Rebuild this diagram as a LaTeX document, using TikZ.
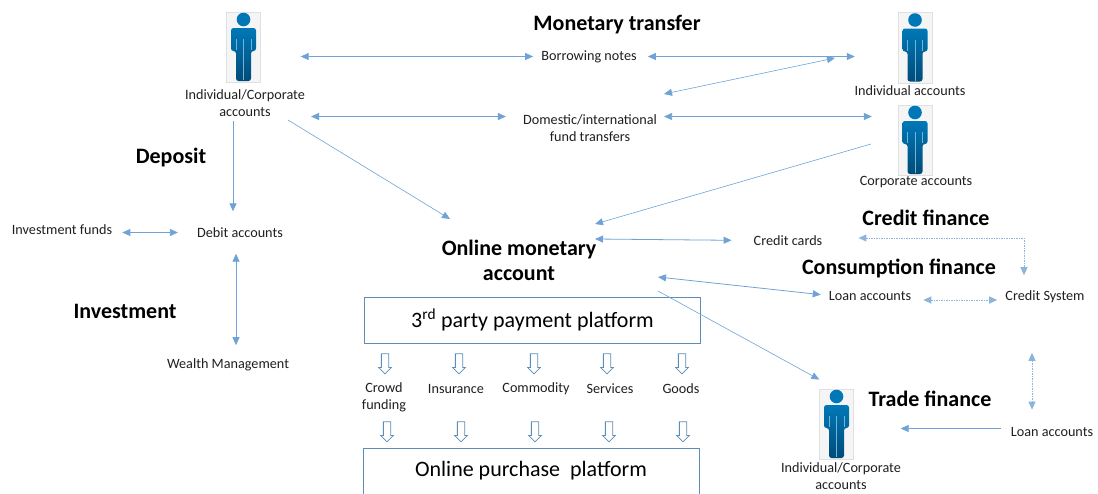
\documentclass[tikz,border=0pt]{standalone}
\usepackage{fontspec}
\setmainfont{Carlito}
\usetikzlibrary{arrows.meta,shapes.arrows}
\definecolor{linkblue}{HTML}{6FA3D6}
\definecolor{boxblue}{HTML}{5B8DB8}
\definecolor{manlight}{HTML}{0078B8}
\definecolor{mandark}{HTML}{004B78}
\tikzset{
  personfig/.pic={
    \fill[manlight] (0,-27.5) circle (6.8);
    \draw[draw=none,top color=manlight,bottom color=mandark,rounded corners=2.5] (-12.5,-19) -- (12.5,-19) -- (12.5,4) -- (7.5,4) -- (7.5,34) -- (-7.5,34) -- (-7.5,4) -- (-12.5,4) -- cycle;
    \draw[manlight!55!white,line width=0.4] (-7.5,-8) -- (-7.5,3) (7.5,-8) -- (7.5,3) (0,-8) -- (0,33);
  }
}
\begin{document}
\begin{tikzpicture}[
  x=1pt,y=-1pt,
  >={Triangle[length=8pt,width=7pt]},
  mynode/.style={inner sep=0pt,align=center,text=black!88,font=\fontsize{14.2}{17}\selectfont},
  headnode/.style={inner sep=0pt,align=center,font=\fontsize{22}{25}\selectfont\bfseries},
  platform/.style={draw=boxblue,line width=0.9pt,minimum width=336pt,minimum height=46pt,font=\fontsize{22}{24}\selectfont},
  personbox/.style={draw=black!12,fill=black!4,minimum width=34pt,minimum height=70.5pt,inner sep=0pt},
  downarrow/.style={draw=boxblue,fill=white,line width=0.8pt,single arrow,rotate=-90,inner xsep=0pt,inner ysep=3.25pt,minimum height=20pt,minimum width=12pt,single arrow head extend=2.75pt,single arrow head indent=0pt},
  link/.style={draw=linkblue,line width=0.8pt,<->},
  oneway/.style={draw=linkblue,line width=0.8pt,->},
  dotlink/.style={draw=linkblue!80,line width=1pt,dash pattern=on 1.5pt off 1pt,<->},
]
\useasboundingbox (0,0) rectangle (1098,493);
\node[personbox] (p1) at (243.5,47) {};
\node[personbox] (p2) at (915,47.5) {};
\node[personbox] (p3) at (915,140) {};
\node[personbox] (p4) at (836.5,424) {};
\pic at (p1) {personfig};
\pic at (p2) {personfig};
\pic at (p3) {personfig};
\pic at (p4) {personfig};
\node[mynode] (p1lab) at (245,103) {Individual/Corporate\\accounts};
\node[mynode] (p2lab) at (910,90.5) {Individual accounts};
\node[mynode] (p3lab) at (916,182.5) {Corporate accounts};
\node[mynode] (p4lab) at (841,476.5) {Individual/Corporate\\accounts};
\node[headnode] (monetary) at (617,24.5) {Monetary transfer};
\node[mynode] (borrow) at (589,56.5) {Borrowing notes};
\node[mynode] (transfer) at (590,128) {Domestic/international\\fund transfers};
\node[headnode] (deposit) at (171,157.5) {Deposit};
\node[mynode] (funds) at (62,229.5) {Investment funds};
\node[mynode] (debit) at (240,232.5) {Debit accounts};
\node[headnode] (investment) at (125,311.5) {Investment};
\node[mynode] (wealth) at (228,364.5) {Wealth Management};
\node[headnode] (online) at (519,260) {Online monetary\\account};
\node[mynode] (credit) at (788,240.5) {Credit cards};
\node[headnode] (creditfin) at (926,217.5) {Credit finance};
\node[headnode] (consume) at (899,268.5) {Consumption finance};
\node[mynode] (loan) at (870,295.5) {Loan accounts};
\node[mynode] (system) at (1045,296.5) {Credit System};
\node[headnode] (trade) at (930,398.5) {Trade finance};
\node[mynode] (loanb) at (1052,431.5) {Loan accounts};
\node[platform] (third) at (532.5,320) {3\textsuperscript{rd} party payment platform};
\node[platform] (purchase) at (531,471) {Online purchase\ \ platform};
\node[mynode] (crowd) at (384,397.5) {Crowd\\funding};
\node[mynode] (insure) at (456,388.5) {Insurance};
\node[mynode] (commod) at (536,388.5) {Commodity};
\node[mynode] (services) at (610,388.5) {Services};
\node[mynode] (goods) at (681,388.5) {Goods};
\node[downarrow] (ua) at (385,362) {};
\node[downarrow] (ub) at (459,362) {};
\node[downarrow] (uc) at (534,362) {};
\node[downarrow] (ud) at (607,362) {};
\node[downarrow] (ue) at (682,362) {};
\node[downarrow] (la) at (387,430) {};
\node[downarrow] (lb) at (461,430) {};
\node[downarrow] (lc) at (535,430) {};
\node[downarrow] (ld) at (609,430) {};
\node[downarrow] (le) at (683,430) {};
\coordinate (p2in) at (835,58);
\coordinate (transin) at (664,94);
\coordinate (p1a) at (311,116.5);
\coordinate (p3out) at (871,144);
\coordinate (onlinea) at (595,224);
\coordinate (p1out) at (288,120);
\coordinate (onlineb) at (450,219);
\coordinate (oncard) at (595,239);
\coordinate (onloan) at (658,277);
\coordinate (ontrade) at (658,291);
\coordinate (dotcorner) at (1024,238);
\coordinate (dotmid) at (960,300);
\draw[link,shorten <=40pt,shorten >=8pt] (p1.east |- borrow.west) -- (borrow.west);
\draw[link,shorten <=11pt,shorten >=43pt] (borrow.east) -- (p2.west |- borrow.east);
\draw[link,line width=0.6pt] (transin) -- (p2in);
\draw[link,shorten >=17pt] (p1a) -- (p1a -| transfer.west);
\draw[link,shorten <=7pt,shorten >=26pt] (p1a -| transfer.east) -- (p1a -| p3.west);
\draw[oneway,line width=0.6pt] (p3out) -- (onlinea);
\draw[oneway,line width=0.6pt] (p1out) -- (onlineb);
\draw[oneway,shorten <=4pt,shorten >=16pt] ([xshift=-12pt]p1lab.south) -- ([xshift=-7pt]debit.north);
\draw[link,shorten <=10pt,shorten >=19pt] (funds.east |- debit) -- (debit.west);
\draw[link,shorten <=16pt,shorten >=13pt] ([xshift=-4pt]debit.south) -- ([xshift=8pt]wealth.north);
\draw[link,shorten >=22pt] (oncard) -- (credit.west);
\draw[link,shorten >=8pt] (onloan) -- (loan.west);
\draw[oneway,line width=0.6pt] (ontrade) -- ([yshift=9pt]p4.north west);
\draw[dotlink,shorten <=36pt,shorten >=15pt] (credit.east |- dotcorner) -- (dotcorner) -- (dotcorner |- system.north);
\draw[dotlink,shorten <=12pt,shorten >=8pt] (loan.east |- dotmid) -- (system.west |- dotmid);
\draw[dotlink,shorten <=50pt,shorten >=17pt] ([xshift=-13pt]system.south) -- ([xshift=-20pt]loanb.north);
\draw[oneway,shorten <=10pt,shorten >=47pt] ([yshift=3pt]loanb.west) -- ([yshift=3pt]loanb.west -| p4.east);
\end{tikzpicture}
\end{document}
